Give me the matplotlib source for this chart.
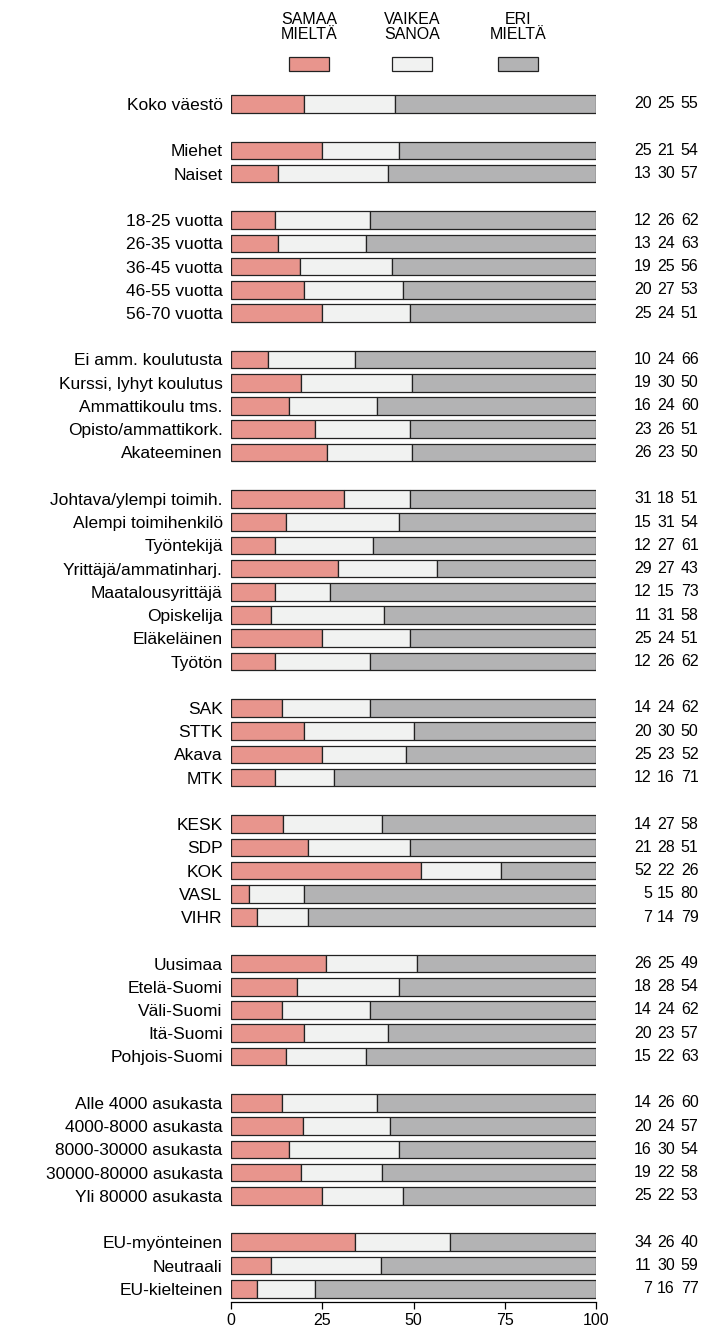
import numpy as np
import matplotlib.pyplot as plt
from matplotlib.patches import Rectangle

plt.rcParams['font.family'] = ['Liberation Sans', 'DejaVu Sans']

# ryhmät (tyhjä rivi ryhmien välissä)
groups = [
    ['Koko väestö'],
    ['Miehet', 'Naiset'],
    ['18-25 vuotta', '26-35 vuotta', '36-45 vuotta', '46-55 vuotta', '56-70 vuotta'],
    ['Ei amm. koulutusta', 'Kurssi, lyhyt koulutus', 'Ammattikoulu tms.',
     'Opisto/ammattikork.', 'Akateeminen'],
    ['Johtava/ylempi toimih.', 'Alempi toimihenkilö', 'Työntekijä',
     'Yrittäjä/ammatinharj.', 'Maatalousyrittäjä', 'Opiskelija', 'Eläkeläinen', 'Työtön'],
    ['SAK', 'STTK', 'Akava', 'MTK'],
    ['KESK', 'SDP', 'KOK', 'VASL', 'VIHR'],
    ['Uusimaa', 'Etelä-Suomi', 'Väli-Suomi', 'Itä-Suomi', 'Pohjois-Suomi'],
    ['Alle 4000 asukasta', '4000-8000 asukasta', '8000-30000 asukasta',
     '30000-80000 asukasta', 'Yli 80000 asukasta'],
    ['EU-myönteinen', 'Neutraali', 'EU-kielteinen'],
]

samaa = [20, 25, 13, 12, 13, 19, 20, 25, 10, 19, 16, 23, 26,
         31, 15, 12, 29, 12, 11, 25, 12, 14, 20, 25, 12,
         14, 21, 52, 5, 7, 26, 18, 14, 20, 15, 14, 20, 16, 19, 25, 34, 11, 7]
vaikea = [25, 21, 30, 26, 24, 25, 27, 24, 24, 30, 24, 26, 23,
          18, 31, 27, 27, 15, 31, 24, 26, 24, 30, 23, 16,
          27, 28, 22, 15, 14, 25, 28, 24, 23, 22, 26, 24, 30, 22, 22, 26, 30, 16]
eri = [55, 54, 57, 62, 63, 56, 53, 51, 66, 50, 60, 51, 50,
       51, 54, 61, 43, 73, 58, 51, 62, 62, 50, 52, 71,
       58, 51, 26, 80, 79, 49, 54, 62, 57, 63, 60, 57, 54, 58, 53, 40, 59, 77]

legend_labels = ['SAMAA\nMIELTÄ', 'VAIKEA\nSANOA', 'ERI\nMIELTÄ']
colors = ['#E8958D', '#F1F2F1', '#B3B3B4']

# rivien paikat
labels = []
pos = []
p = 0
for g in groups:
    for name in g:
        labels.append(name)
        pos.append(p)
        p += 1
    p += 1
pos = np.array(pos)

s = np.array(samaa)
v = np.array(vaikea)
e = np.array(eri)
# pyöristetyt luvut eivät aina summaudu sataan, palkit skaalataan 100:aan
tot = s + v + e
sw = s * 100 / tot
vw = v * 100 / tot
ew = e * 100 / tot

fig = plt.figure(figsize=(7.03, 13.29), dpi=100)
ax = fig.add_axes([231/703, 27/1329, 365/703, (1302-90)/1329])

h = 0.76
kw = dict(height=h, edgecolor='#222222', linewidth=0.9)
ax.barh(pos, sw, color=colors[0], **kw)
ax.barh(pos, vw, left=sw, color=colors[1], **kw)
ax.barh(pos, ew, left=sw + vw, color=colors[2], **kw)

ax.set_xlim(0, 100)
ax.set_ylim(51.57, -0.6)
ax.set_yticks(pos)
ax.set_yticklabels(labels, fontsize=12.5)
ax.tick_params(axis='y', length=0, pad=6)
ax.set_xticks([0, 25, 50, 75, 100])
ax.tick_params(axis='x', labelsize=11.5, length=5, width=0.9, pad=3)
for sp in ['left', 'right', 'top']:
    ax.spines[sp].set_visible(False)
ax.spines['bottom'].set_linewidth(0.9)

# luvut oikealla
for i in range(len(pos)):
    for val, xx in zip([s[i], v[i], e[i]], [115.3, 121.6, 128.1]):
        ax.text(xx, pos[i], str(val), ha='right', va='center', fontsize=11.5, clip_on=False)

# selite ylhäällä
lx = [309, 412, 518]
for txt, c, x in zip(legend_labels, colors, lx):
    fig.text(x/703, 1 - 27/1329, txt, ha='center', va='center', fontsize=11.5, linespacing=1.0)
    fig.patches.append(Rectangle(((x - 20)/703, 1 - 71/1329), 40/703, 14/1329,
                                 transform=fig.transFigure, facecolor=c,
                                 edgecolor='#222222', linewidth=0.9))

fig.savefig('out.png', dpi=100)
